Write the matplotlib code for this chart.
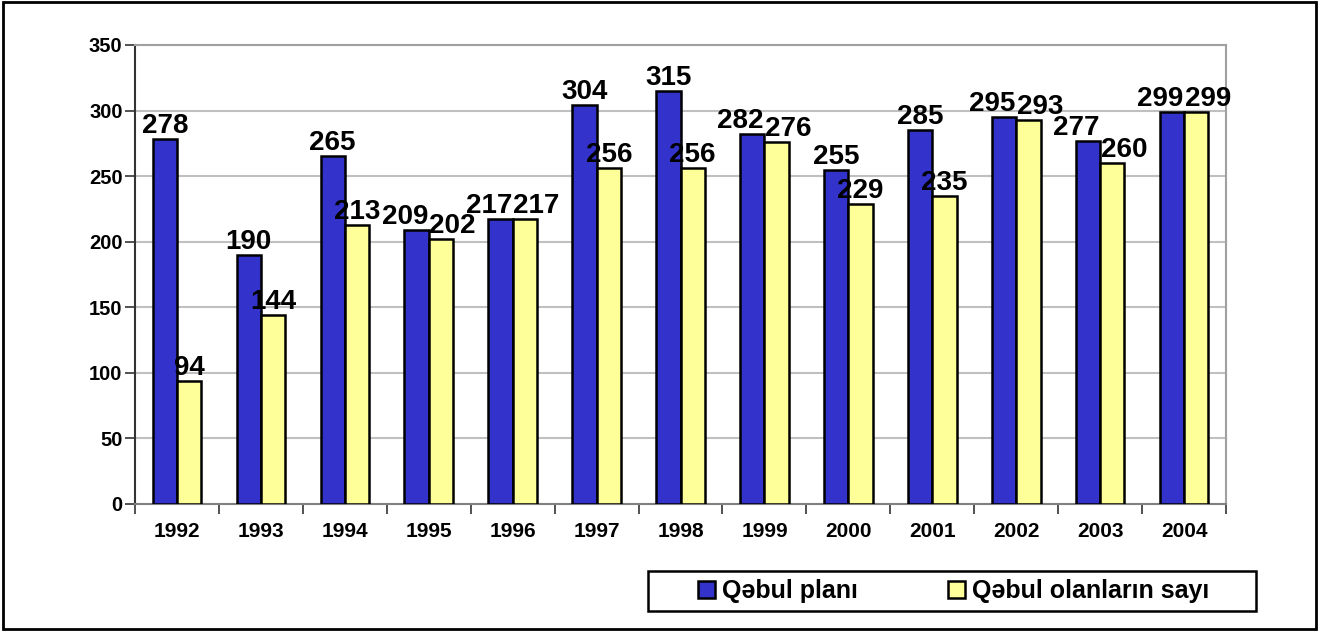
import numpy as np
import matplotlib
matplotlib.use("Agg")
import matplotlib.pyplot as plt
from matplotlib.patches import Rectangle

years = ['1992', '1993', '1994', '1995', '1996', '1997', '1998',
         '1999', '2000', '2001', '2002', '2003', '2004']
plan = [278, 190, 265, 209, 217, 304, 315, 282, 255, 285, 295, 277, 299]
admitted = [94, 144, 213, 202, 217, 256, 256, 276, 229, 235, 293, 260, 299]
series_names = ['Qəbul planı', 'Qəbul olanların sayı']

plt.rcParams['font.family'] = ['Liberation Sans', 'DejaVu Sans']
plt.rcParams['font.weight'] = 'bold'

fig = plt.figure(figsize=(13.19, 6.31), dpi=100)
ax = fig.add_axes([0.1024, 0.2013, 0.8271, 0.7274])

# black frame round the whole picture
fig.patches.append(Rectangle((0.002, 0.003), 0.996, 0.994, transform=fig.transFigure,
                             fill=False, edgecolor='black', linewidth=2))

x = np.arange(len(years))
w = 0.29
b1 = ax.bar(x - w / 2, plan, w, color='#3333CC', edgecolor='black', linewidth=1.8,
            label=series_names[0], zorder=3)
b2 = ax.bar(x + w / 2, admitted, w, color='#FFFF99', edgecolor='black', linewidth=1.8,
            label=series_names[1], zorder=3)

labels = []
for bars in (b1, b2):
    row = []
    for r in bars:
        t = ax.annotate(f'{int(r.get_height())}', (r.get_x() + r.get_width() / 2, r.get_height()),
                        xytext=(0, 0), textcoords='offset points', ha='center', va='bottom',
                        fontsize=20, fontweight='bold')
        row.append(t)
    labels.append(row)

ax.set_xlim(-0.5, len(years) - 0.5)
ax.set_ylim(0, 350)
ax.set_yticks(range(0, 351, 50))
ax.yaxis.grid(True, color='#C0C0C0', linewidth=1.5, zorder=0)
ax.set_axisbelow(True)

ax.set_xticks(x)
ax.set_xticklabels(years, fontsize=15, fontweight='bold')
ax.set_xticks(np.arange(-0.5, len(years)), minor=True)
ax.tick_params(axis='x', which='major', length=0, pad=13)
ax.tick_params(axis='x', which='minor', length=7, width=1.2, color='#333333', direction='out')
ax.tick_params(axis='y', length=7, width=1.2, color='#333333', labelsize=14.5, pad=2)
for t in ax.get_yticklabels():
    t.set_fontweight('bold')

for s in ('top', 'right'):
    ax.spines[s].set_color('#A0A0A0')
    ax.spines[s].set_linewidth(1.5)
ax.spines['left'].set_color('#333333')
ax.spines['left'].set_linewidth(1.5)
ax.spines['bottom'].set_color('#808080')
ax.spines['bottom'].set_linewidth(1.5)

# push apart labels that would run into each other
fig.canvas.draw()
renderer = fig.canvas.get_renderer()
for left, right in zip(labels[0], labels[1]):
    e1 = left.get_window_extent(renderer)
    e2 = right.get_window_extent(renderer)
    vert = e1.y0 < e2.y1 and e2.y0 < e1.y1
    overlap = e1.x1 - e2.x0 + 1
    if vert and overlap > 0:
        shift = overlap / 2 * 72 / fig.dpi
        left.set_position((-shift, 0))
        right.set_position((shift, 0))

# legend box drawn by hand, entries laid in it
fig.patches.append(Rectangle((648 / 1319, 1 - 611 / 631), 608 / 1319, 40 / 631,
                             transform=fig.transFigure, fill=False, edgecolor='black',
                             linewidth=1.8, zorder=5))
leg = fig.legend(loc='center', bbox_to_anchor=(0.7233, 0.0634), ncol=2,
                 prop={'size': 18, 'weight': 'bold'}, frameon=False,
                 handlelength=0.68, handleheight=0.68, handletextpad=0.28,
                 columnspacing=3.6, borderpad=0.2)

fig.savefig('out.png', dpi=100)
